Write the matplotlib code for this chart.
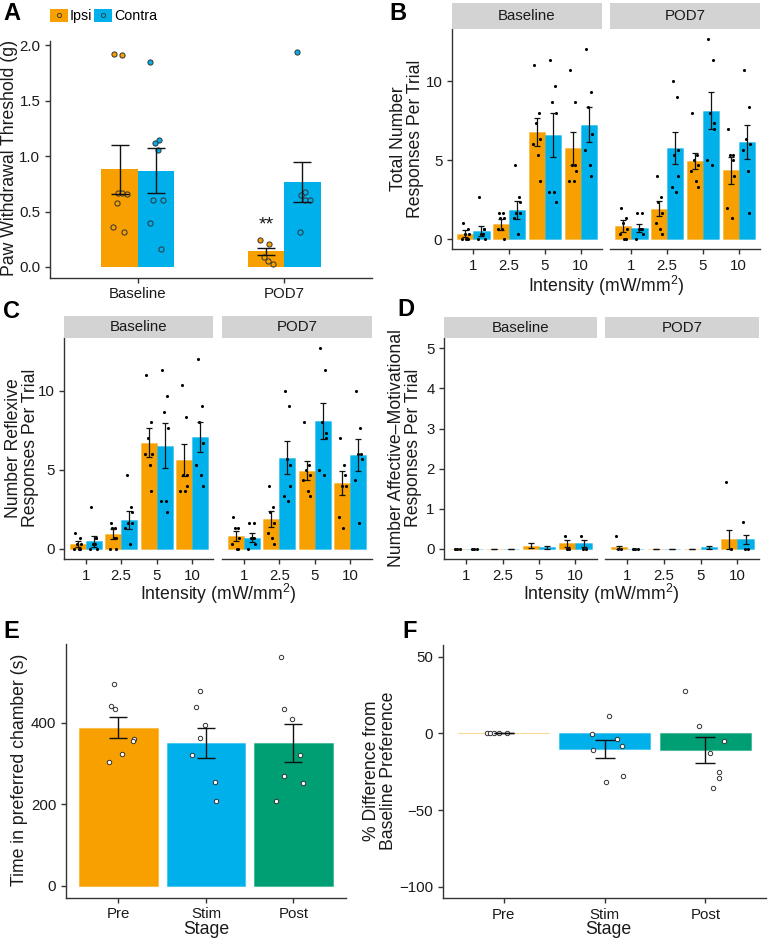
import numpy as np
import matplotlib.pyplot as plt
from matplotlib.patches import Patch
from matplotlib.lines import Line2D
from matplotlib.legend_handler import HandlerTuple

plt.rcParams['font.family'] = ['Liberation Sans', 'DejaVu Sans']
plt.rcParams['mathtext.fontset'] = 'custom'
plt.rcParams['mathtext.rm'] = 'Liberation Sans'
plt.rcParams['mathtext.default'] = 'regular'

W, H = 775, 941
ORANGE = '#F7A000'
BLUE = '#00B0EA'
GREEN = '#009E73'
INK = '#1A1A1A'
AXC = '#333333'
TICK_FS = 10.8
LAB_FS = 12.7

# ---------------- data ----------------
# A: paw withdrawal threshold
a_groups = ['Baseline', 'POD7']
a_ipsi_mean = [0.88, 0.14]
a_ipsi_se = [0.225, 0.03]
a_contra_mean = [0.87, 0.77]
a_contra_se = [0.20, 0.18]
a_ipsi_pts = [[1.92, 1.91, 0.67, 0.67, 0.66, 0.58, 0.36, 0.32],
              [0.24, 0.205, 0.088, 0.057, 0.03]]
a_contra_pts = [[1.85, 1.15, 1.12, 1.06, 0.60, 0.60, 0.40, 0.16],
                [1.94, 0.68, 0.65, 0.60, 0.60, 0.32]]

intensities = ['1', '2.5', '5', '10']

# B: total responses
b_base_ipsi = [0.34, 0.95, 6.78, 5.75]
b_base_ipsi_se = [0.22, 0.35, 0.9, 1.05]
b_base_contra = [0.53, 1.85, 6.59, 7.24]
b_base_contra_se = [0.33, 0.55, 1.4, 1.1]
b_pod7_ipsi = [0.84, 1.92, 4.95, 4.36]
b_pod7_ipsi_se = [0.35, 0.47, 0.53, 0.87]
b_pod7_contra = [0.72, 5.77, 8.13, 6.13]
b_pod7_contra_se = [0.27, 1.0, 1.17, 1.08]
b_base_ipsi_pts = [[1.0, 0.67, 0.33, 0.33, 0, 0, 0],
                   [1.67, 1.67, 1.33, 1.33, 0.67, 0.67, 0],
                   [11.0, 8.0, 7.33, 6.33, 6.0, 5.33, 3.67],
                   [10.67, 8.67, 4.67, 4.33, 3.67, 3.67, 4.67]]
b_base_contra_pts = [[2.67, 0.67, 0.33, 0, 0, 0.33, 0.67],
                     [4.67, 2.67, 1.67, 1.67, 1.33, 0.33, 2.33],
                     [11.33, 9.67, 8.67, 8.0, 3.0, 3.0, 2.33],
                     [12.0, 9.33, 8.33, 6.67, 5.67, 4.67, 4.0]]
b_pod7_ipsi_pts = [[2.0, 1.33, 1.0, 0.67, 0.33, 0, 0],
                   [4.0, 2.67, 2.33, 1.67, 1.0, 0.67, 0.33],
                   [8.0, 5.33, 5.0, 4.67, 4.33, 3.67, 3.33],
                   [7.0, 5.33, 5.33, 4.0, 2.0, 1.33, 5.0]]
b_pod7_contra_pts = [[1.67, 1.67, 0.67, 0.33, 0, 0.67, 0.67],
                     [10.0, 9.0, 5.33, 4.0, 3.33, 3.0, 5.67],
                     [12.67, 11.33, 8.0, 7.33, 5.0, 4.67, 7.0],
                     [10.67, 8.33, 6.33, 6.0, 5.67, 4.33, 1.67]]

# C: reflexive responses
c_base_ipsi = [0.3, 0.93, 6.72, 5.62]
c_base_ipsi_se = [0.2, 0.33, 0.9, 1.0]
c_base_contra = [0.5, 1.83, 6.53, 7.09]
c_base_contra_se = [0.35, 0.55, 1.4, 0.95]
c_pod7_ipsi = [0.82, 1.87, 4.95, 4.15]
c_pod7_ipsi_se = [0.3, 0.5, 0.6, 0.75]
c_pod7_contra = [0.72, 5.77, 8.08, 5.92]
c_pod7_contra_se = [0.27, 1.02, 1.12, 1.0]
c_base_ipsi_pts = [[1.0, 0.67, 0.33, 0.33, 0, 0, 0],
                   [1.67, 1.33, 1.33, 0.67, 0, 0.67, 0],
                   [11.0, 8.0, 7.0, 6.0, 6.0, 5.33, 3.67],
                   [10.33, 8.33, 4.67, 4.67, 3.67, 3.67, 4.0]]
c_base_contra_pts = [[2.67, 0.67, 0.33, 0, 0, 0.33, 0.67],
                     [4.67, 2.67, 1.67, 1.67, 1.33, 0.33, 2.33],
                     [11.33, 9.67, 8.67, 7.67, 3.0, 3.0, 2.33],
                     [12.0, 9.0, 8.0, 6.67, 5.33, 4.67, 4.0]]
c_pod7_ipsi_pts = [[2.0, 1.33, 1.33, 0.67, 0.33, 0, 0],
                   [4.0, 2.67, 2.33, 1.67, 1.0, 0.67, 0.33],
                   [8.0, 5.33, 5.0, 4.67, 4.33, 3.67, 3.33],
                   [7.0, 5.33, 4.0, 4.0, 2.0, 1.33, 4.67]]
c_pod7_contra_pts = [[1.67, 1.67, 0.67, 0.33, 0, 0.67, 0.67],
                     [10.0, 9.0, 5.67, 4.0, 3.33, 3.0, 5.33],
                     [12.67, 11.33, 8.0, 7.33, 5.0, 4.67, 7.0],
                     [10.0, 7.67, 6.0, 5.67, 4.33, 1.67, 6.0]]

# D: affective-motivational responses
d_base_ipsi = [0, 0, 0.08, 0.14]
d_base_ipsi_se = [0, 0, 0.06, 0.08]
d_base_contra = [0, 0, 0.04, 0.14]
d_base_contra_se = [0, 0, 0.04, 0.08]
d_pod7_ipsi = [0.04, 0, 0, 0.24]
d_pod7_ipsi_se = [0.04, 0, 0, 0.24]
d_pod7_contra = [0, 0, 0.04, 0.24]
d_pod7_contra_se = [0, 0, 0.04, 0.12]
d_base_ipsi_pts = [[0, 0, 0], [], [], [0.33, 0, 0]]
d_base_contra_pts = [[0, 0, 0], [], [], [0.33, 0, 0]]
d_pod7_ipsi_pts = [[0.33, 0, 0], [], [], [1.67, 0]]
d_pod7_contra_pts = [[0, 0, 0], [], [], [0.67, 0, 0]]

# E / F: place preference
stages = ['Pre', 'Stim', 'Post']
e_mean = [388, 350, 350]
e_se = [26.5, 37, 47]
e_pts = [[495, 441, 433, 359, 356, 323, 304],
         [477, 439, 395, 363, 321, 254, 207],
         [561, 434, 408, 320, 269, 252, 208]]
f_mean = [0, -10.1, -11.0]
f_se = [0, 5.7, 8.5]
f_pts = [[0, 0, 0, 0, 0],
         [11.5, -0.3, -3.7, -8.3, -10.7, -27.8, -31.5],
         [27.4, 4.8, -5.2, -12.6, -25.4, -29.0, -35.9]]

# horizontal jitter used for the dots
jit_small = np.array([-0.07, 0.06, -0.02, 0.09, -0.1, 0.03, 0.08, -0.05])
jit_a = np.array([-0.04, 0.02, -0.01, 0.015, 0.05, -0.02, -0.045, 0.03])
e_jit = [[-0.05, -0.08, -0.045, 0.175, 0.165, 0.035, -0.105],
         [-0.065, -0.115, -0.01, -0.07, -0.155, 0.105, 0.11],
         [-0.145, -0.11, -0.02, 0.075, -0.11, 0.11, -0.2]]
f_jit = [[-0.16, -0.135, -0.097, -0.048, 0.03],
         [0.04, -0.12, 0.125, 0.175, -0.11, 0.185, 0.01],
         [-0.2, -0.065, 0.185, 0.05, 0.13, 0.13, 0.075]]

fig = plt.figure(figsize=(W / 100, H / 100), dpi=100)


def px_axes(x0, y0, x1, y1):
    return fig.add_axes([x0 / W, 1 - y1 / H, (x1 - x0) / W, (y1 - y0) / H])


def style(ax, left=True):
    ax.spines['top'].set_visible(False)
    ax.spines['right'].set_visible(False)
    for s in ['left', 'bottom']:
        ax.spines[s].set_color(AXC)
        ax.spines[s].set_linewidth(1.0)
    ax.tick_params(colors=AXC, labelcolor=INK, labelsize=TICK_FS,
                   length=3.5, width=1.0)
    if not left:
        ax.spines['left'].set_visible(False)
        ax.tick_params(axis='y', left=False, labelleft=False)


def ftext(x, y, s, **kw):
    fig.text(x / W, 1 - y / H, s, **kw)


def strip(x0, y0, x1, y1, label):
    s = px_axes(x0, y0, x1, y1)
    s.set_facecolor('#D3D3D3')
    s.set_xticks([])
    s.set_yticks([])
    for sp in s.spines.values():
        sp.set_visible(False)
    s.text(0.5, 0.5, label, ha='center', va='center', fontsize=TICK_FS,
           color=INK, transform=s.transAxes)


def facet(ax, ipsi, ipsi_se, contra, contra_se, ipsi_pts, contra_pts, ylim, yticks, left):
    x = np.arange(len(intensities))
    ax.bar(x - 0.225, ipsi, 0.45, color=ORANGE, edgecolor=(ORANGE, 0.4), linewidth=0.6)
    ax.bar(x + 0.225, contra, 0.45, color=BLUE, edgecolor=(BLUE, 0.4), linewidth=0.6)
    for off, plist in [(-0.225, ipsi_pts), (0.225, contra_pts)]:
        for i, pts in enumerate(plist):
            if len(pts) == 0:
                continue
            ax.scatter(x[i] + off + jit_small[:len(pts)], pts, s=5,
                       color='black', linewidths=0, zorder=3)
    for off, m, se in [(-0.225, ipsi, ipsi_se), (0.225, contra, contra_se)]:
        ax.errorbar(x + off, m, yerr=se, fmt='none', ecolor='#111111',
                    elinewidth=0.9, capsize=2.0, capthick=0.9, zorder=4)
    ax.set_xlim(-0.6, 3.6)
    ax.set_ylim(*ylim)
    ax.set_xticks(x)
    ax.set_xticklabels(intensities)
    ax.set_yticks(yticks)
    style(ax, left)


# ---------------- A ----------------
ax = px_axes(50, 41.3, 372, 277.7)
xa = np.arange(1, 3)
ax.bar(xa - 0.125, a_ipsi_mean, 0.25, color=ORANGE)
ax.bar(xa + 0.125, a_contra_mean, 0.25, color=BLUE)
for off, plist, col in [(-0.125, a_ipsi_pts, ORANGE), (0.125, a_contra_pts, BLUE)]:
    for i, pts in enumerate(plist):
        ax.scatter(xa[i] + off + jit_a[:len(pts)], pts, s=14, facecolor=col,
                   edgecolor='#333333', linewidths=0.7, zorder=3)
ax.errorbar(xa - 0.125, a_ipsi_mean, yerr=a_ipsi_se, fmt='none', ecolor='#111111',
            elinewidth=1.0, capsize=6.5, capthick=1.0, zorder=4)
ax.errorbar(xa + 0.125, a_contra_mean, yerr=a_contra_se, fmt='none', ecolor='#111111',
            elinewidth=1.0, capsize=6.5, capthick=1.0, zorder=4)
ax.text(xa[1] - 0.125, 0.3, '**', ha='center', va='bottom', fontsize=14, color=INK)
ax.set_xlim(0.4, 2.6)
ax.set_ylim(-0.097, 2.037)
ax.set_xticks(xa)
ax.set_xticklabels(a_groups)
ax.set_yticks([0, 0.5, 1.0, 1.5, 2.0])
ax.set_yticklabels(['0.0', '0.5', '1.0', '1.5', '2.0'])
style(ax)
ftext(10, 158, 'Paw Withdrawal Threshold (g)', rotation=90, ha='center',
      va='center', fontsize=LAB_FS, color=INK)
dot = dict(marker='o', linestyle='none', markersize=3, markeredgewidth=0.6)
handles = [(Patch(facecolor=ORANGE), Line2D([], [], markerfacecolor=ORANGE, markeredgecolor='#333333', **dot)),
           (Patch(facecolor=BLUE), Line2D([], [], markerfacecolor=BLUE, markeredgecolor='#333333', **dot))]
fig.legend(handles, ['Ipsi', 'Contra'], handler_map={tuple: HandlerTuple(ndivide=1, pad=0)},
           loc='center left', bbox_to_anchor=(50 / W, 1 - 16 / H), ncol=2, frameon=False,
           fontsize=10.3, handlelength=1.25, handleheight=1.1, handletextpad=0.15,
           columnspacing=0.1, borderpad=0, borderaxespad=0)

# ---------------- B ----------------
bl = px_axes(452, 28.8, 602, 249.3)
facet(bl, b_base_ipsi, b_base_ipsi_se, b_base_contra, b_base_contra_se,
      b_base_ipsi_pts, b_base_contra_pts, (-0.633, 13.3), [0, 5, 10], True)
br = px_axes(610, 28.8, 760, 249.3)
facet(br, b_pod7_ipsi, b_pod7_ipsi_se, b_pod7_contra, b_pod7_contra_se,
      b_pod7_ipsi_pts, b_pod7_contra_pts, (-0.633, 13.3), [0, 5, 10], False)
strip(452, 3, 602, 28.5, 'Baseline')
strip(610, 3, 760, 28.5, 'POD7')
ftext(407, 139, 'Total Number\nResponses Per Trial', rotation=90, ha='center',
      va='center', fontsize=LAB_FS, color=INK, linespacing=1.0)
ftext(606, 286, 'Intensity (mW/mm$^2$)', ha='center', va='center', fontsize=LAB_FS, color=INK)

# ---------------- C ----------------
cl = px_axes(64.3, 338.4, 213.3, 559)
facet(cl, c_base_ipsi, c_base_ipsi_se, c_base_contra, c_base_contra_se,
      c_base_ipsi_pts, c_base_contra_pts, (-0.633, 13.3), [0, 5, 10], True)
cr = px_axes(222.3, 338.4, 371.7, 559)
facet(cr, c_pod7_ipsi, c_pod7_ipsi_se, c_pod7_contra, c_pod7_contra_se,
      c_pod7_ipsi_pts, c_pod7_contra_pts, (-0.633, 13.3), [0, 5, 10], False)
strip(64.3, 316, 213.3, 338, 'Baseline')
strip(222.3, 316, 371.7, 338, 'POD7')
ftext(22, 448, 'Number Reflexive\nResponses Per Trial', rotation=90, ha='center',
      va='center', fontsize=LAB_FS, color=INK, linespacing=1.0)
ftext(218, 594, 'Intensity (mW/mm$^2$)', ha='center', va='center', fontsize=LAB_FS, color=INK)

# ---------------- D ----------------
dl = px_axes(444.3, 338.3, 597.3, 559)
facet(dl, d_base_ipsi, d_base_ipsi_se, d_base_contra, d_base_contra_se,
      d_base_ipsi_pts, d_base_contra_pts, (-0.25, 5.25), [0, 1, 2, 3, 4, 5], True)
dr = px_axes(605, 338.3, 759.3, 559)
facet(dr, d_pod7_ipsi, d_pod7_ipsi_se, d_pod7_contra, d_pod7_contra_se,
      d_pod7_ipsi_pts, d_pod7_contra_pts, (-0.25, 5.25), [0, 1, 2, 3, 4, 5], False)
strip(444.3, 317, 597.3, 338, 'Baseline')
strip(605, 317, 759.3, 338, 'POD7')
ftext(405, 448, 'Number Affective\u2013Motivational\nResponses Per Trial', rotation=90,
      ha='center', va='center', fontsize=LAB_FS, color=INK, linespacing=1.0)
ftext(601, 594, 'Intensity (mW/mm$^2$)', ha='center', va='center', fontsize=LAB_FS, color=INK)

# ---------------- E ----------------
colors3 = [ORANGE, BLUE, GREEN]
ax = px_axes(66, 643.8, 346, 897.5)
xs = np.arange(len(stages))
ax.bar(xs, e_mean, 0.9, color=colors3, edgecolor=[(c, 0.4) for c in colors3], linewidth=0.8)
for i, pts in enumerate(e_pts):
    ax.scatter(xs[i] + np.array(e_jit[i]), pts, s=10, facecolor='white',
               edgecolor='#333333', linewidths=0.7, zorder=3)
ax.errorbar(xs, e_mean, yerr=e_se, fmt='none', ecolor='#111111',
            elinewidth=1.0, capsize=6.5, capthick=1.0, zorder=4)
ax.set_xlim(-0.6, 2.6)
ax.set_ylim(-28.25, 593.25)
ax.set_xticks(xs)
ax.set_xticklabels(stages)
ax.set_yticks([0, 200, 400])
style(ax)
ftext(20, 770, 'Time in preferred chamber (s)', rotation=90, ha='center',
      va='center', fontsize=LAB_FS, color=INK)
ftext(206, 930, 'Stage', ha='center', va='center', fontsize=LAB_FS, color=INK)

# ---------------- F ----------------
ax = px_axes(443, 645.2, 766, 898.2)
ax.bar(xs, f_mean, 0.9, color=colors3, edgecolor=[(c, 0.4) for c in colors3], linewidth=0.8)
for i, pts in enumerate(f_pts):
    ax.scatter(xs[i] + np.array(f_jit[i]), pts, s=10, facecolor='white',
               edgecolor='#333333', linewidths=0.7, zorder=3)
ax.errorbar(xs, f_mean, yerr=f_se, fmt='none', ecolor='#111111',
            elinewidth=1.0, capsize=7, capthick=1.0, zorder=4)
ax.set_xlim(-0.6, 2.6)
ax.set_ylim(-107.5, 57.5)
ax.set_xticks(xs)
ax.set_xticklabels(stages)
ax.set_yticks([-100, -50, 0, 50])
style(ax)
ftext(380, 771, '% Difference from\nBaseline Preference', rotation=90, ha='center',
      va='center', fontsize=LAB_FS, color=INK, linespacing=1.0)
ftext(608, 930, 'Stage', ha='center', va='center', fontsize=LAB_FS, color=INK)

# panel letters
for lab, x, y in [('A', 3, 14), ('B', 389, 14), ('C', 3, 312), ('D', 397, 310),
                  ('E', 3, 632), ('F', 402, 632)]:
    ftext(x, y, lab, ha='left', va='center', fontsize=17, fontweight='bold', color='black')

fig.savefig('out.png', dpi=100)
